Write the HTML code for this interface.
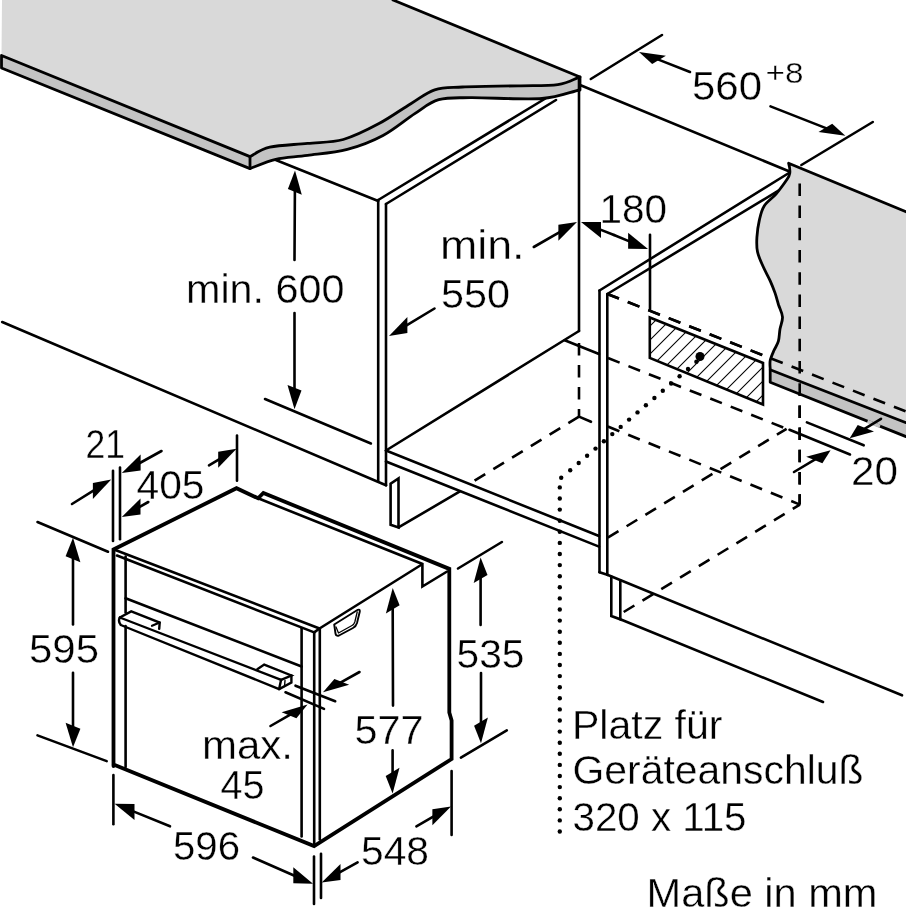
<!DOCTYPE html>
<html><head><meta charset="utf-8"><style>
html,body{margin:0;padding:0;background:#fff;}
svg{display:block;filter:blur(0.3px);}
text{font-family:"Liberation Sans",sans-serif;fill:#000;stroke:#fff;stroke-width:0.35px;}
</style></head><body>
<svg width="906" height="911" viewBox="0 0 906 911">
<g stroke="#000" fill="none" stroke-linecap="round">
<path d="M2,0 L393,0 L580,77 L580,90  C571.8,91.2 559.9,97.2 542,98.5 C524.1,99.8 487.6,97.5 470.4,97.7 C453.2,97.9 448.0,97.1 438.7,99.7 C429.4,102.3 424.1,107.6 414.8,113.6 C405.5,119.6 394.2,129.5 383,135.5 C371.8,141.5 359.9,146.1 347.3,149.4 C334.7,152.7 319.4,153.8 307.5,155.4 C295.6,157.1 285.4,157.1 275.8,159.3 C266.2,161.5 254.3,167.1 250,168.6 L1.5,68 L1.5,55.5 Z" fill="#d9d9d9" stroke="none"/>
<path d="M1.5,55.5 L250,156.6  C253.3,155.0 260.2,149.4 269.8,147.2 C279.4,145.0 295.2,144.7 307.5,143.4 C319.8,142.1 331.4,142.8 343.3,139.5 C355.2,136.2 367.8,129.6 379,123.6 C390.2,117.6 401.5,109.3 410.8,103.7 C420.1,98.1 426.1,92.6 434.7,89.8 C443.3,87.0 448.6,87.7 462.5,87 C476.4,86.3 502.1,86.2 518,85.8 C533.9,85.4 547.8,85.9 557.8,84.6 C567.8,83.3 574.4,79.0 577.7,77.9 L580,77 L580,90  C571.8,91.2 559.9,97.2 542,98.5 C524.1,99.8 487.6,97.5 470.4,97.7 C453.2,97.9 448.0,97.1 438.7,99.7 C429.4,102.3 424.1,107.6 414.8,113.6 C405.5,119.6 394.2,129.5 383,135.5 C371.8,141.5 359.9,146.1 347.3,149.4 C334.7,152.7 319.4,153.8 307.5,155.4 C295.6,157.1 285.4,157.1 275.8,159.3 C266.2,161.5 254.3,167.1 250,168.6 L1.5,68 Z" fill="#c3c3c3" stroke="#000" stroke-width="2.8" stroke-linejoin="round"/>
<path d="M250,156.6 L250,168.6" stroke-width="2.8"/>
<line x1="393" y1="0" x2="580" y2="77" stroke-width="2.8"/>
<line x1="275.8" y1="160" x2="378.2" y2="201" stroke-width="2.6"/>
<line x1="378.2" y1="200" x2="378.2" y2="481" stroke-width="2.6"/>
<line x1="386" y1="204" x2="386" y2="485.3" stroke-width="2.6"/>
<line x1="378.2" y1="200" x2="545.4" y2="98.5" stroke-width="2.6"/>
<line x1="386" y1="204" x2="556" y2="100" stroke-width="2.6"/>
<line x1="579" y1="77" x2="579" y2="331" stroke-width="2.6"/>
<line x1="386" y1="450.5" x2="579" y2="331" stroke-width="2.6"/>
<line x1="386" y1="450.5" x2="599" y2="536" stroke-width="2.6"/>
<line x1="386" y1="461.5" x2="599" y2="546.6" stroke-width="2.6"/>
<path d="M390.6,483.7 L390.6,524.8 L398.5,527.4 L398.5,478.4 Z" stroke-width="2.6" fill="none" stroke-linejoin="miter"/>
<line x1="398.5" y1="527.4" x2="459.5" y2="491.7" stroke-width="2.6"/>
<line x1="564.7" y1="340.3" x2="599" y2="354" stroke-width="2.6"/>
<line x1="579" y1="343" x2="579" y2="416.6" stroke-width="2.6" stroke-dasharray="12.5 9.5" stroke-dashoffset="0" stroke-linecap="butt"/>
<line x1="579" y1="416.6" x2="474" y2="481" stroke-width="2.6" stroke-dasharray="12.5 9.5" stroke-dashoffset="0" stroke-linecap="butt"/>
<line x1="579" y1="416.6" x2="591" y2="421.8" stroke-width="2.6"/>
<line x1="2.2" y1="322" x2="386" y2="485.3" stroke-width="2.6"/>
<line x1="294.5" y1="260" x2="294.9" y2="189.9" stroke-width="2.6"/>
<path d="M295,170.4 L301.8,194.7 L287.9,189.1 Z" fill="#000" stroke="none"/>
<line x1="294.5" y1="313" x2="294.5" y2="389.8" stroke-width="2.6"/>
<path d="M294.5,409.3 L301.5,390.6 L287.5,385.0 Z" fill="#000" stroke="none"/>
<line x1="265" y1="399" x2="370.9" y2="443.5" stroke-width="2.6"/>
<line x1="533.8" y1="247" x2="560.1" y2="231.8" stroke-width="2.6"/>
<path d="M577,222 L558.4,240.8 L558.4,224.8 Z" fill="#000" stroke="none"/>
<line x1="434.5" y1="308.5" x2="405.7" y2="325.9" stroke-width="2.6"/>
<path d="M389,336 L407.4,332.9 L407.4,316.9 Z" fill="#000" stroke="none"/>
<line x1="614" y1="235" x2="599.1" y2="229.1" stroke-width="2.6"/>
<path d="M581,222 L601.0,237.9 L601.0,221.9 Z" fill="#000" stroke="none"/>
<line x1="614" y1="235" x2="630.0" y2="241.6" stroke-width="2.6"/>
<path d="M648,249 L628.1,248.8 L628.1,232.8 Z" fill="#000" stroke="none"/>
<line x1="650" y1="234.8" x2="650" y2="310.6" stroke-width="2.6"/>
<line x1="580" y1="85" x2="789.5" y2="171.5" stroke-width="2.6"/>
<line x1="590.8" y1="79" x2="662" y2="35" stroke-width="2.6"/>
<line x1="690" y1="72" x2="657.2" y2="59.1" stroke-width="2.6"/>
<path d="M639,52 L665.9,55.7 L652.2,64.0 Z" fill="#000" stroke="none"/>
<line x1="770.5" y1="106.4" x2="827.2" y2="128.6" stroke-width="2.6"/>
<path d="M845.4,135.7 L832.2,123.8 L818.5,132.0 Z" fill="#000" stroke="none"/>
<line x1="801.4" y1="165" x2="872.8" y2="122" stroke-width="2.6"/>
<line x1="599.5" y1="290.5" x2="599.5" y2="572.2" stroke-width="2.6"/>
<line x1="607.3" y1="294" x2="607.3" y2="574.8" stroke-width="2.6"/>
<line x1="599.5" y1="290.5" x2="789.7" y2="172.5" stroke-width="2.6"/>
<line x1="607.3" y1="294" x2="778.5" y2="190.7" stroke-width="2.6"/>
<line x1="599.5" y1="572.2" x2="607.3" y2="574.8" stroke-width="2.6"/>
<line x1="607.3" y1="574.8" x2="902" y2="695.3" stroke-width="2.6"/>
<path d="M611.3,576.5 L611.3,616 L620.3,619.3 L620.3,580.2" stroke-width="2.6" fill="none" stroke-linejoin="miter"/>
<line x1="620.3" y1="619.3" x2="823" y2="702" stroke-width="2.6"/>
<line x1="607.3" y1="294" x2="906" y2="411.5" stroke-width="2.6" stroke-dasharray="12.5 9.5" stroke-dashoffset="0" stroke-linecap="butt"/>
<line x1="608" y1="358" x2="786.6" y2="428.8" stroke-width="2.6" stroke-dasharray="12.5 9.5" stroke-dashoffset="0" stroke-linecap="butt"/>
<line x1="607.8" y1="537.7" x2="786.6" y2="428.8" stroke-width="2.6" stroke-dasharray="12.5 9.5" stroke-dashoffset="0" stroke-linecap="butt"/>
<line x1="607.8" y1="426.5" x2="799.9" y2="504.6" stroke-width="2.6" stroke-dasharray="12.5 9.5" stroke-dashoffset="0" stroke-linecap="butt"/>
<line x1="623.7" y1="612" x2="799.9" y2="504.6" stroke-width="2.6" stroke-dasharray="12.5 9.5" stroke-dashoffset="0" stroke-linecap="butt"/>
<line x1="799.7" y1="183.4" x2="799.7" y2="504.6" stroke-width="2.6" stroke-dasharray="12.5 9.7" stroke-dashoffset="0" stroke-linecap="butt"/>
<path d="M906,211.8 L788.6,163.2  C791.1,172.3 789.7,175.5 787.1,179.3 C784.5,183.1 780.0,189.4 776.2,193.8 C772.4,198.2 767.0,201.5 764.2,205.9 C761.4,210.3 760.5,215.2 759.3,220.4 C758.1,225.6 757.2,232.1 756.9,237.3 C756.6,242.5 756.5,247.0 757.5,251.8 C758.5,256.6 760.9,261.5 763,266.3 C765.1,271.1 768.2,276.4 770.2,280.8 C772.2,285.2 773.6,288.9 775,292.9 C776.4,296.9 777.4,301.0 778.6,305 C779.9,309.0 782.3,313.0 782.5,317 C782.7,321.0 780.7,325.0 780,329 C779.3,333.0 779.4,337.6 778.4,341.2 C777.4,344.8 775.2,347.6 773.8,350.8 C772.4,354.0 770.8,357.5 770.2,360.5 C769.6,363.5 770.2,367.6 770.2,369 L770.2,382.2 L906,436.6 Z" fill="#d9d9d9" stroke="none"/>
<path d="M770.2,369.8 L906,422.7 L906,436.6 L770.2,382.2 Z" fill="#c3c3c3" stroke="none"/>
<path d="M906,211.8 L788.6,163.2  C791.1,172.3 789.7,175.5 787.1,179.3 C784.5,183.1 780.0,189.4 776.2,193.8 C772.4,198.2 767.0,201.5 764.2,205.9 C761.4,210.3 760.5,215.2 759.3,220.4 C758.1,225.6 757.2,232.1 756.9,237.3 C756.6,242.5 756.5,247.0 757.5,251.8 C758.5,256.6 760.9,261.5 763,266.3 C765.1,271.1 768.2,276.4 770.2,280.8 C772.2,285.2 773.6,288.9 775,292.9 C776.4,296.9 777.4,301.0 778.6,305 C779.9,309.0 782.3,313.0 782.5,317 C782.7,321.0 780.7,325.0 780,329 C779.3,333.0 779.4,337.6 778.4,341.2 C777.4,344.8 775.2,347.6 773.8,350.8 C772.4,354.0 770.8,357.5 770.2,360.5 C769.6,363.5 770.2,367.6 770.2,369 L770.2,382.2 L906,436.6" fill="none" stroke-width="2.8" stroke-linejoin="round"/>
<line x1="770.2" y1="369.8" x2="906" y2="422.7" stroke-width="2.6"/>
<line x1="867.5" y1="421.3" x2="880" y2="426.3" stroke="#c3c3c3" stroke-width="3.4" stroke-linecap="butt"/>
<line x1="607.3" y1="294" x2="906" y2="411.5" stroke-width="2.6" stroke-dasharray="12.5 9.5" stroke-dashoffset="0" stroke-linecap="butt"/>
<line x1="799.7" y1="183.4" x2="799.7" y2="504.6" stroke-width="2.6" stroke-dasharray="12.5 9.7" stroke-dashoffset="0" stroke-linecap="butt"/>
<line x1="806.9" y1="422.4" x2="863.7" y2="445.3" stroke-width="2.6"/>
<line x1="789.5" y1="429.8" x2="850" y2="454.5" stroke-width="2.6"/>
<line x1="881" y1="418.8" x2="864.1" y2="429.2" stroke-width="2.6"/>
<path d="M849.7,438.2 L874.0,431.4 L857.7,424.9 Z" fill="#000" stroke="none"/>
<line x1="794" y1="472" x2="816.0" y2="458.9" stroke-width="2.6"/>
<path d="M830.6,450.2 L822.4,463.2 L806.2,456.7 Z" fill="#000" stroke="none"/>
<defs><clipPath id="hc"><path d="M649.8,317.5 L763,363 L763,404.5 L649.8,358 Z"/></clipPath></defs>
<g clip-path="url(#hc)"><line x1="500" y1="420" x2="610" y2="310" stroke-width="1.1"/><line x1="514" y1="420" x2="624" y2="310" stroke-width="1.1"/><line x1="528" y1="420" x2="638" y2="310" stroke-width="1.1"/><line x1="542" y1="420" x2="652" y2="310" stroke-width="1.1"/><line x1="556" y1="420" x2="666" y2="310" stroke-width="1.1"/><line x1="570" y1="420" x2="680" y2="310" stroke-width="1.1"/><line x1="584" y1="420" x2="694" y2="310" stroke-width="1.1"/><line x1="598" y1="420" x2="708" y2="310" stroke-width="1.1"/><line x1="612" y1="420" x2="722" y2="310" stroke-width="1.1"/><line x1="626" y1="420" x2="736" y2="310" stroke-width="1.1"/><line x1="640" y1="420" x2="750" y2="310" stroke-width="1.1"/><line x1="654" y1="420" x2="764" y2="310" stroke-width="1.1"/><line x1="668" y1="420" x2="778" y2="310" stroke-width="1.1"/><line x1="682" y1="420" x2="792" y2="310" stroke-width="1.1"/><line x1="696" y1="420" x2="806" y2="310" stroke-width="1.1"/><line x1="710" y1="420" x2="820" y2="310" stroke-width="1.1"/><line x1="724" y1="420" x2="834" y2="310" stroke-width="1.1"/><line x1="738" y1="420" x2="848" y2="310" stroke-width="1.1"/><line x1="752" y1="420" x2="862" y2="310" stroke-width="1.1"/><line x1="766" y1="420" x2="876" y2="310" stroke-width="1.1"/><line x1="780" y1="420" x2="890" y2="310" stroke-width="1.1"/><line x1="794" y1="420" x2="904" y2="310" stroke-width="1.1"/><line x1="808" y1="420" x2="918" y2="310" stroke-width="1.1"/><line x1="822" y1="420" x2="932" y2="310" stroke-width="1.1"/><line x1="836" y1="420" x2="946" y2="310" stroke-width="1.1"/><line x1="850" y1="420" x2="960" y2="310" stroke-width="1.1"/><line x1="864" y1="420" x2="974" y2="310" stroke-width="1.1"/><line x1="878" y1="420" x2="988" y2="310" stroke-width="1.1"/><line x1="892" y1="420" x2="1002" y2="310" stroke-width="1.1"/><line x1="906" y1="420" x2="1016" y2="310" stroke-width="1.1"/></g>
<path d="M649.8,317.5 L763,363 L763,404.5 L649.8,358 Z" stroke-width="2.6" fill="none" stroke-linejoin="miter"/>
<circle cx="700" cy="356.5" r="4.5" fill="#000" stroke="none"/>
<g fill="#000" stroke="none"><circle cx="696.4" cy="361.8" r="2.2"/><circle cx="688.0" cy="369.0" r="2.2"/><circle cx="679.6" cy="376.3" r="2.2"/><circle cx="671.2" cy="383.5" r="2.2"/><circle cx="662.8" cy="390.7" r="2.2"/><circle cx="654.4" cy="398.0" r="2.2"/><circle cx="645.9" cy="405.2" r="2.2"/><circle cx="637.5" cy="412.4" r="2.2"/><circle cx="629.1" cy="419.6" r="2.2"/><circle cx="620.7" cy="426.9" r="2.2"/><circle cx="612.3" cy="434.1" r="2.2"/><circle cx="603.9" cy="441.3" r="2.2"/><circle cx="595.5" cy="448.6" r="2.2"/><circle cx="587.1" cy="455.8" r="2.2"/><circle cx="578.7" cy="463.0" r="2.2"/><circle cx="570.2" cy="470.2" r="2.2"/><circle cx="561.2" cy="477.8" r="2.2"/><circle cx="559.8" cy="487.4" r="2.2"/><circle cx="559.8" cy="498.5" r="2.2"/><circle cx="559.8" cy="509.6" r="2.2"/><circle cx="559.8" cy="520.7" r="2.2"/><circle cx="559.8" cy="531.8" r="2.2"/><circle cx="559.8" cy="542.9" r="2.2"/><circle cx="559.8" cy="554.0" r="2.2"/><circle cx="559.8" cy="565.1" r="2.2"/><circle cx="559.8" cy="576.2" r="2.2"/><circle cx="559.8" cy="587.3" r="2.2"/><circle cx="559.8" cy="598.4" r="2.2"/><circle cx="559.8" cy="609.5" r="2.2"/><circle cx="559.8" cy="620.6" r="2.2"/><circle cx="559.8" cy="631.7" r="2.2"/><circle cx="559.8" cy="642.8" r="2.2"/><circle cx="559.8" cy="653.9" r="2.2"/><circle cx="559.8" cy="665.0" r="2.2"/><circle cx="559.8" cy="676.1" r="2.2"/><circle cx="559.8" cy="687.2" r="2.2"/><circle cx="559.8" cy="698.3" r="2.2"/><circle cx="559.8" cy="709.4" r="2.2"/><circle cx="559.8" cy="720.5" r="2.2"/><circle cx="559.8" cy="731.6" r="2.2"/><circle cx="559.8" cy="742.7" r="2.2"/><circle cx="559.8" cy="753.8" r="2.2"/><circle cx="559.8" cy="764.9" r="2.2"/><circle cx="559.8" cy="776.0" r="2.2"/><circle cx="559.8" cy="787.1" r="2.2"/><circle cx="559.8" cy="798.2" r="2.2"/><circle cx="559.8" cy="809.3" r="2.2"/><circle cx="559.8" cy="820.4" r="2.2"/><circle cx="559.8" cy="831.5" r="2.2"/></g>
<path d="M113.5,766 L113.5,549.5 L236.5,488.2 L258.1,498.3 L263.4,493 L449.3,568.9 L449.3,712.5 L451.6,720.5 L451.6,759 L314.1,846.1 L113.5,764.5" stroke-width="3.8" stroke-linejoin="miter" fill="none"/>
<line x1="114" y1="549.5" x2="319.5" y2="628.5" stroke-width="2.6"/>
<line x1="117" y1="555.5" x2="314.2" y2="632.4" stroke-width="2.6"/>
<line x1="314.2" y1="632.4" x2="319.5" y2="628.5" stroke-width="2.6"/>
<path d="M258.1,498.3 L422.4,564 L422.4,586.5 L447.1,571.5" stroke-width="2.6" fill="none" stroke-linejoin="miter"/>
<line x1="319.5" y1="628.5" x2="421" y2="565" stroke-width="2.6"/>
<line x1="125.6" y1="556.5" x2="125.6" y2="612.5" stroke-width="2.6"/>
<line x1="125.6" y1="626" x2="125.6" y2="767" stroke-width="2.6"/>
<line x1="301.6" y1="628.2" x2="301.6" y2="836.5" stroke-width="2.6"/>
<line x1="314.2" y1="632.4" x2="314.2" y2="846" stroke-width="2.6"/>
<line x1="319.8" y1="628.5" x2="319.8" y2="839.5" stroke-width="2.6"/>
<line x1="125.6" y1="598.3" x2="301.6" y2="666.5" stroke-width="2.6"/>
<path d="M119.8,617.5 L281.1,679.8 M120.8,625 L279.1,689.1 M119.8,617.5 Q117.8,621.5 120.8,625" stroke-width="2.4" fill="none"/>
<path d="M119.8,617.5 L131.2,611.4 L159.7,622.6 L159.2,628.8" stroke-width="2.4" fill="none" stroke-linejoin="miter"/>
<line x1="152" y1="625.8" x2="159.7" y2="622.6" stroke-width="2.2"/>
<path d="M257.3,669.2 L264.2,664.6 L291.4,675.5 L281.1,679.8" stroke-width="2.4" fill="none" stroke-linejoin="miter"/>
<path d="M291.4,675.5 L291.4,682.5 L279.1,689.1" stroke-width="2.4" fill="none" stroke-linejoin="miter"/>
<line x1="281.1" y1="679.8" x2="279.1" y2="689.1" stroke-width="2.4"/>
<line x1="285" y1="680.5" x2="284.5" y2="686.5" stroke-width="1.4"/>
<path d="M334.2,624.5 L357.8,609.8 Q360,609 359.8,611.5 L357,623 Q356,626.5 353,628 L339,635.5 Q336,636.5 335.5,633.5 Z" stroke-width="1.9" fill="none" stroke-linejoin="round"/>
<path d="M336,627 L338.5,633 M338.5,633 L352,625.5 Q354,624.5 354.8,622 L357.2,612" stroke-width="1.3" fill="none"/>
<line x1="393" y1="705.6" x2="392.7" y2="607.4" stroke-width="2.6"/>
<path d="M392.7,587.9 L399.6,605.3 L385.9,613.5 Z" fill="#000" stroke="none"/>
<line x1="392.6" y1="750.4" x2="392.6" y2="773.9" stroke-width="2.6"/>
<path d="M392.6,793.4 L399.5,767.8 L385.7,776.0 Z" fill="#000" stroke="none"/>
<line x1="458" y1="568.5" x2="501.9" y2="542" stroke-width="2.6"/>
<line x1="480.6" y1="625" x2="480.6" y2="577.0" stroke-width="2.6"/>
<path d="M480.6,557.5 L487.5,574.9 L473.7,583.1 Z" fill="#000" stroke="none"/>
<line x1="481" y1="673" x2="481.0" y2="723.7" stroke-width="2.6"/>
<path d="M481,743.2 L487.9,717.6 L474.1,725.8 Z" fill="#000" stroke="none"/>
<line x1="460.9" y1="757.6" x2="506.8" y2="730.3" stroke-width="2.6"/>
<line x1="295.5" y1="685.7" x2="335.2" y2="701.2" stroke-width="2.6"/>
<line x1="285.5" y1="692.3" x2="324" y2="708.9" stroke-width="2.6"/>
<line x1="359.5" y1="672" x2="340.0" y2="682.8" stroke-width="2.6"/>
<path d="M323,692.3 L349.2,684.8 L334.4,678.9 Z" fill="#000" stroke="none"/>
<line x1="270.5" y1="726" x2="290.7" y2="714.3" stroke-width="2.6"/>
<path d="M307.6,704.5 L296.4,718.3 L281.6,712.3 Z" fill="#000" stroke="none"/>
<line x1="37.5" y1="522" x2="108" y2="551.7" stroke-width="2.6"/>
<line x1="37.5" y1="735.4" x2="106.7" y2="761.1" stroke-width="2.6"/>
<line x1="73" y1="624.5" x2="73.0" y2="557.3" stroke-width="2.6"/>
<path d="M73,537.8 L80.4,562.3 L65.6,556.3 Z" fill="#000" stroke="none"/>
<line x1="73" y1="672.8" x2="73.0" y2="727.8" stroke-width="2.6"/>
<path d="M73,747.3 L80.4,728.8 L65.6,722.8 Z" fill="#000" stroke="none"/>
<line x1="113" y1="470.8" x2="113" y2="541" stroke-width="2.6"/>
<line x1="120" y1="467.5" x2="120" y2="539.2" stroke-width="2.6"/>
<line x1="237" y1="435.5" x2="237" y2="480.7" stroke-width="2.6"/>
<line x1="72" y1="504" x2="94.6" y2="489.9" stroke-width="2.6"/>
<path d="M111.2,479.6 L92.9,499.0 L92.9,483.0 Z" fill="#000" stroke="none"/>
<line x1="161.5" y1="451" x2="138.9" y2="463.5" stroke-width="2.6"/>
<path d="M121.8,473 L140.6,470.6 L140.6,454.6 Z" fill="#000" stroke="none"/>
<line x1="148.3" y1="502" x2="138.8" y2="507.4" stroke-width="2.6"/>
<path d="M121.8,517 L140.5,514.4 L140.5,498.4 Z" fill="#000" stroke="none"/>
<line x1="209" y1="465.3" x2="219.9" y2="458.8" stroke-width="2.6"/>
<path d="M236.6,448.7 L218.2,467.8 L218.2,451.8 Z" fill="#000" stroke="none"/>
<line x1="113.4" y1="775" x2="113.4" y2="824.3" stroke-width="2.6"/>
<line x1="170" y1="826.3" x2="132.7" y2="811.1" stroke-width="2.6"/>
<path d="M114.6,803.8 L134.5,819.9 L134.5,803.9 Z" fill="#000" stroke="none"/>
<line x1="253" y1="857.5" x2="295.1" y2="876.0" stroke-width="2.6"/>
<path d="M313,883.8 L293.3,883.2 L293.3,867.2 Z" fill="#000" stroke="none"/>
<line x1="314" y1="856.6" x2="314" y2="904" stroke-width="2.6"/>
<line x1="321" y1="853.7" x2="321" y2="898" stroke-width="2.6"/>
<line x1="357.6" y1="862.3" x2="338.7" y2="872.9" stroke-width="2.6"/>
<path d="M321.7,882.4 L340.5,879.9 L340.5,863.9 Z" fill="#000" stroke="none"/>
<line x1="416.4" y1="826.4" x2="434.1" y2="816.2" stroke-width="2.6"/>
<path d="M451,806.5 L432.4,825.2 L432.4,809.2 Z" fill="#000" stroke="none"/>
<line x1="451.6" y1="771" x2="451.6" y2="835" stroke-width="2.6"/>
<text x="186.0" y="303.0" font-size="40" textLength="158.5" lengthAdjust="spacingAndGlyphs">min. 600</text>
<text x="440.0" y="259.0" font-size="40" textLength="84.5" lengthAdjust="spacingAndGlyphs">min.</text>
<text x="441.0" y="307.5" font-size="40" textLength="69.0" lengthAdjust="spacingAndGlyphs">550</text>
<text x="599.5" y="222.5" font-size="40" textLength="67.5" lengthAdjust="spacingAndGlyphs">180</text>
<text x="692.0" y="99.5" font-size="40" textLength="70.0" lengthAdjust="spacingAndGlyphs">560</text>
<text x="765.5" y="83.0" font-size="29" textLength="38.0" lengthAdjust="spacingAndGlyphs">+8</text>
<text x="851.0" y="485.0" font-size="40" textLength="47.0" lengthAdjust="spacingAndGlyphs">20</text>
<text x="354.5" y="744.0" font-size="40" textLength="69.0" lengthAdjust="spacingAndGlyphs">577</text>
<text x="456.5" y="668.0" font-size="40" textLength="68.0" lengthAdjust="spacingAndGlyphs">535</text>
<text x="202.0" y="758.5" font-size="40" textLength="91.0" lengthAdjust="spacingAndGlyphs">max.</text>
<text x="220.5" y="799.0" font-size="40" textLength="44.0" lengthAdjust="spacingAndGlyphs">45</text>
<text x="29.0" y="662.5" font-size="40" textLength="70.0" lengthAdjust="spacingAndGlyphs">595</text>
<text x="85.5" y="457.5" font-size="40" textLength="39.5" lengthAdjust="spacingAndGlyphs">21</text>
<text x="136.5" y="498.5" font-size="40" textLength="68.0" lengthAdjust="spacingAndGlyphs">405</text>
<text x="173.0" y="859.5" font-size="40" textLength="67.0" lengthAdjust="spacingAndGlyphs">596</text>
<text x="361.0" y="864.5" font-size="40" textLength="68.0" lengthAdjust="spacingAndGlyphs">548</text>
<text x="572.0" y="738.5" font-size="41" textLength="150.5" lengthAdjust="spacingAndGlyphs">Platz für</text>
<text x="572.5" y="784.0" font-size="41" textLength="291.0" lengthAdjust="spacingAndGlyphs">Geräteanschluß</text>
<text x="572.5" y="831.0" font-size="40" textLength="174.0" lengthAdjust="spacingAndGlyphs">320 x 115</text>
<text x="646.5" y="907.0" font-size="41" textLength="231.0" lengthAdjust="spacingAndGlyphs">Maße in mm</text>
</g>
</svg>
</body></html>
